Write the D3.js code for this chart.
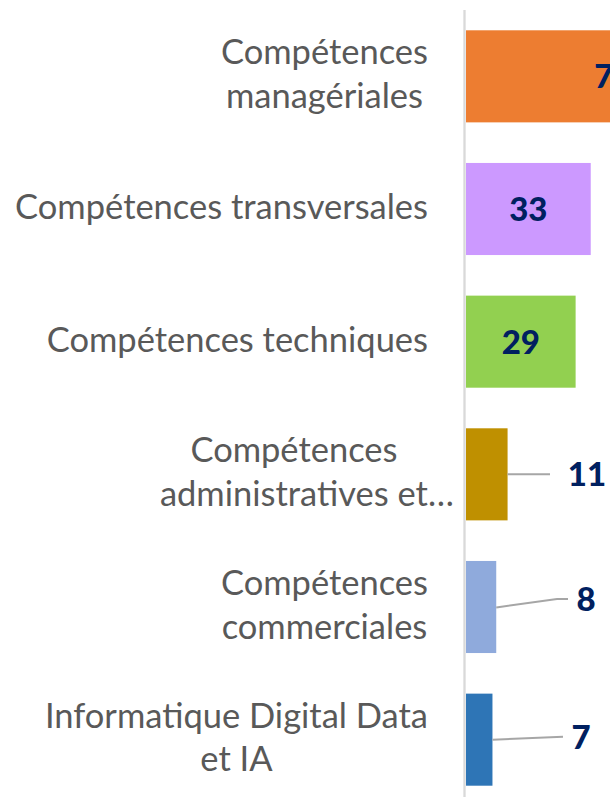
<!DOCTYPE html>
<html><head><meta charset="utf-8">
<script src="https://cdn.jsdelivr.net/npm/d3@7"></script>
<style>html,body{margin:0;padding:0;background:#fff;overflow:hidden}</style>
</head><body>
<svg id="c" width="610" height="797"></svg>
<script>
const categories = [
  ["Compétences", "managériales"],
  ["Compétences transversales"],
  ["Compétences techniques"],
  ["Compétences", "administratives et…"],
  ["Compétences", "commerciales"],
  ["Informatique Digital Data", "et IA"]
];
const values = [78, 33, 29, 11, 8, 7];
const colors = ["#ED7D31", "#CC99FF", "#92D050", "#BF9000", "#8FAADC", "#2E75B6"];

const svg = d3.select("#c");
const W = 610, H = 797;
const x = d3.scaleLinear().domain([0, 100]).range([466, 466 + 378]);
const y = d3.scaleBand().domain(d3.range(values.length)).range([10, 806]).paddingInner(0.306).paddingOuter(0.153);

// bars
svg.selectAll("rect.bar").data(values).join("rect")
  .attr("class", "bar")
  .attr("x", x(0)).attr("y", (d, i) => y(i))
  .attr("width", d => x(d) - x(0)).attr("height", y.bandwidth())
  .attr("fill", (d, i) => colors[i]);

// axis line
svg.append("line").attr("x1", 464.5).attr("x2", 464.5).attr("y1", 10).attr("y2", H)
  .attr("stroke", "#D9D9D9").attr("stroke-width", 2.3);

// category labels
const labFont = "Lato, 'Open Sans', sans-serif";
const probe = svg.append("text").attr("font-family", labFont).attr("font-size", 100).text("Compétences transversales");
const fs = 100 * 413 / probe.node().getComputedTextLength();
probe.remove();
const rightEdge = 428, lineH = 43.5;
categories.forEach((lines, i) => {
  const cy = y(i) + y.bandwidth() / 2;
  const g = svg.append("g");
  const ts = lines.map(l => {
    const t = g.append("text").attr("font-family", labFont).attr("font-size", fs).attr("fill", "#595959").text(l);
    const full = t.node().getComputedTextLength();
    let core = full;
    if (l.endsWith("…")) {
      const tmp = g.append("text").attr("font-family", labFont).attr("font-size", fs).text(l.slice(0, -1));
      core = tmp.node().getComputedTextLength(); tmp.remove();
    }
    return {t, core};
  });
  const blockW = d3.max(ts, d => d.core);
  const center = rightEdge - blockW / 2;
  const base0 = lines.length === 1 ? cy + 10 : cy - 12;
  ts.forEach((d, j) => {
    d.t.attr("x", center - d.core / 2).attr("y", base0 + j * lineH);
  });
});

// value labels
const valFont = "Lato, 'Open Sans', sans-serif";
const valFs = 33;
const outside = [null, null, null, {lx: 587, pts: (x1, cy) => [[x1, cy], [550, cy]]},
  {lx: 586, pts: (x1, cy) => [[x1, cy + 0.5], [557, cy - 8], [568, cy - 8]]},
  {lx: 581, pts: (x1, cy) => [[x1, cy], [563, cy - 3]]}];
values.forEach((v, i) => {
  const cy = y(i) + y.bandwidth() / 2;
  const o = outside[i];
  let lx, ly = cy;
  if (!o) {
    lx = (x(0) + x(v)) / 2;
  } else {
    const p = o.pts(x(v), cy);
    svg.append("path").attr("d", d3.line()(p)).attr("fill", "none").attr("stroke", "#A6A6A6").attr("stroke-width", 2);
    lx = o.lx; ly = p[p.length - 1][1];
  }
  svg.append("text").attr("x", lx).attr("y", ly).attr("dy", "0.36em")
    .attr("text-anchor", "middle").attr("font-family", valFont).attr("font-weight", "900")
    .attr("font-size", valFs).attr("fill", "#002060").text(v);
});
</script>
</body></html>
